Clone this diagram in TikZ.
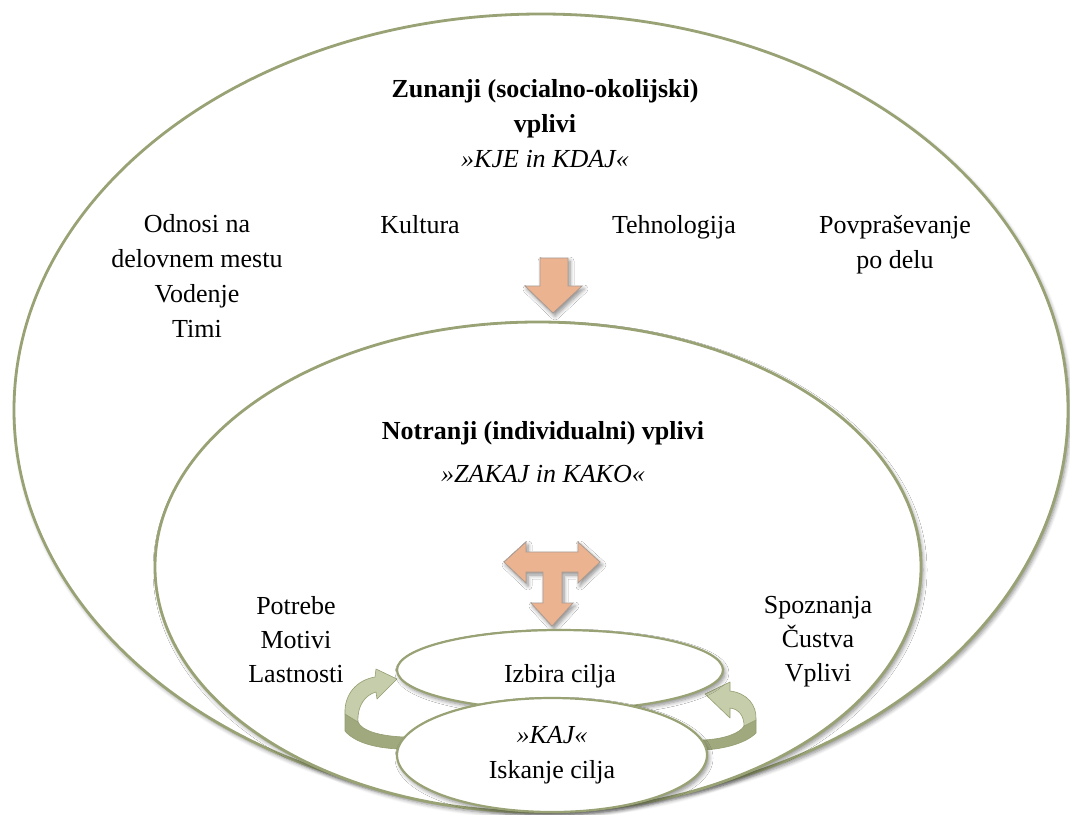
\documentclass[tikz,border=0pt]{standalone}
\usepackage{fontspec}
\setmainfont{Liberation Serif}
\usetikzlibrary{shapes.geometric,shadows.blur}
\definecolor{ringline}{RGB}{152,162,116}
\definecolor{arrowfill}{RGB}{236,179,145}
\definecolor{arrowline}{RGB}{170,155,145}
\definecolor{ribbonlight}{RGB}{198,205,170}
\definecolor{ribbondark}{RGB}{160,168,126}
\definecolor{ribbonline}{RGB}{148,158,112}
\begin{document}
\begin{tikzpicture}[x=1pt,y=-1pt,
  softshadow/.style={blur shadow={shadow xshift=2pt,shadow yshift=-3pt,shadow blur radius=4pt,shadow blur steps=6,shadow opacity=45}},
  ring/.style={ellipse,draw=ringline,line width=2.8pt,fill=white,inner sep=0pt,softshadow},
  goal/.style={ring,line width=2.2pt,align=center,font=\fontsize{26}{35}\selectfont},
  lbl/.style={font=\fontsize{26}{35}\selectfont,align=center,inner sep=0pt,anchor=north},
  lbltight/.style={lbl,font=\fontsize{26}{34}\selectfont},
  bigarrow/.style={fill=arrowfill,draw=arrowline,line width=0.8pt,line join=miter,softshadow},
  ribbonlit/.style={fill=ribbonlight,draw=ribbonline,line width=0.6pt,line join=round},
  ribbonside/.style={fill=ribbondark,draw=ribbonline,line width=0.6pt,line join=round}]
\useasboundingbox (0,0) rectangle (1070,814);

% big rings
\node[ring,minimum width=1054pt,minimum height=792pt] (outer) at (541,410) {};
\node[ring,minimum width=766pt,minimum height=490pt] (inner) at (538,567) {};

% down arrow between rings
\draw[bigarrow] (540,258) -- (568,258) -- (568,286) -- (582,286) -- (553,313)
  -- (525,286) -- (540,286) -- cycle;

% T arrow
\draw[bigarrow] (504,562) -- (526,542) -- (526,552) -- (578,552) -- (578,542)
  -- (600,562) -- (578,583) -- (578,572) -- (562,572) -- (562,603) -- (573,603)
  -- (552,626) -- (531,603) -- (543,603) -- (543,572) -- (526,572) -- (526,583) -- cycle;

% left curved ribbon arrow
\draw[ribbonside] (345,714) -- (345,731) .. controls (355,743) and (378,749) .. (404,749)
  -- (404,737) .. controls (380,736) and (362,731) .. (358,722) -- cycle;
\draw[ribbonlit] (397,679) -- (377,699) -- (376,692) .. controls (365,695) and (357,706) .. (358,722)
  -- (345,714) .. controls (344,694) and (357,680) .. (375,677) -- (376,669) -- cycle;

% right curved ribbon arrow
\draw[ribbonside] (756,720) -- (756,733) .. controls (746,743) and (725,749) .. (703,750)
  -- (703,740) .. controls (725,739) and (740,733) .. (744,726) -- cycle;
\draw[ribbonlit] (705,694) -- (730,682) -- (730,691) .. controls (747,693) and (757,705) .. (756,720)
  -- (744,726) .. controls (744,716) and (739,709) .. (730,708) -- (730,718) -- cycle;

% goal ellipses
\node[goal,minimum width=326pt,minimum height=80pt,text height=24pt,text depth=0pt] (izbira) at (560,670) {Izbira cilja};
\node[goal,minimum width=310pt,minimum height=114pt] (kaj) at (552,755) {\textit{»KAJ«}\\Iskanje cilja};

% texts of the outer ring
\node[lbl] (exttitle) at (545,79) {\textbf{Zunanji (socialno-okolijski)}\\\textbf{vplivi}\\\textit{»KJE in KDAJ«}};
\node[lbl] (odnosi) at (197,214) {Odnosi na\\delovnem mestu\\Vodenje\\Timi};
\node[lbl] (kultura) at (420,215) {Kultura};
\node[lbl] (tehno) at (674,215) {Tehnologija};
\node[lbl] (povpr) at (895,215) {Povpraševanje\\po delu};

% texts of the inner ring
\node[lbl] (inttitle) at (543,421) {\textbf{Notranji (individualni) vplivi}\\[8pt]\textit{»ZAKAJ in KAKO«}};
\node[lbltight] (potrebe) at (296,596) {Potrebe\\Motivi\\Lastnosti};
\node[lbltight] (spozn) at (818,596) {Spoznanja\\Čustva\\Vplivi};
\end{tikzpicture}
\end{document}
